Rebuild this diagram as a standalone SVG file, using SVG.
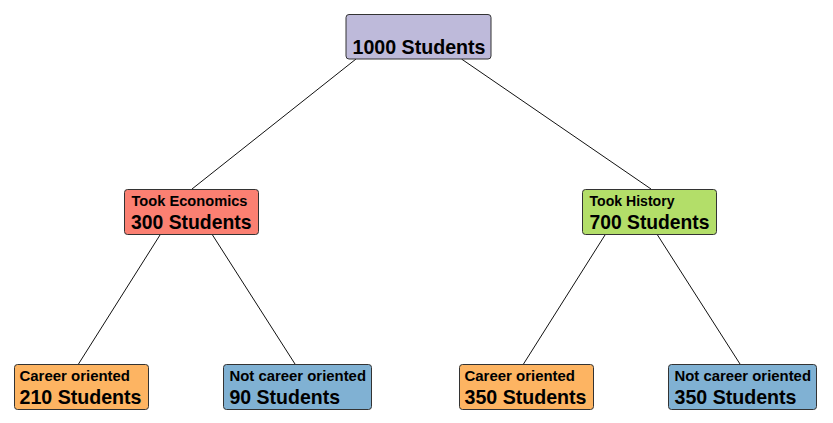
<svg xmlns="http://www.w3.org/2000/svg" width="833" height="423" viewBox="0 0 833 423">
<style>
.box{stroke:#333333;stroke-width:1;}
.t{font-family:"Liberation Sans",Arial,sans-serif;font-weight:bold;fill:#000000;}
.big{font-size:19.8px;}
.small{font-size:14.6px;}
.edge{stroke:#111111;stroke-width:1;fill:none;}
</style>
<rect x="0" y="0" width="833" height="423" fill="#ffffff"/>
<g id="connectors">
<line class="edge" x1="356" y1="59" x2="192" y2="189"/>
<line class="edge" x1="461.5" y1="59" x2="651" y2="189"/>
<line class="edge" x1="160" y1="235" x2="78.5" y2="364"/>
<line class="edge" x1="212.5" y1="235" x2="295" y2="364"/>
<line class="edge" x1="605" y1="235" x2="523.5" y2="364"/>
<line class="edge" x1="657.5" y1="235" x2="740" y2="364"/>
</g>
<g id="root">
<rect class="box" x="346" y="14.5" width="145" height="44.5" rx="3" fill="#bebada"/>
<text class="t big" x="352.5" y="54" textLength="133" lengthAdjust="spacingAndGlyphs">1000 Students</text>
</g>
<g id="economics">
<rect class="box" x="124.5" y="189.5" width="134" height="45" rx="3" fill="#fb8072"/>
<text class="t small" x="131.5" y="206" textLength="116" lengthAdjust="spacingAndGlyphs">Took Economics</text>
<text class="t big" x="131" y="228.5" textLength="120.5" lengthAdjust="spacingAndGlyphs">300 Students</text>
</g>
<g id="history">
<rect class="box" x="582.5" y="189.5" width="134" height="45" rx="3" fill="#b3de69"/>
<text class="t small" x="589.5" y="206" textLength="85" lengthAdjust="spacingAndGlyphs">Took History</text>
<text class="t big" x="589.5" y="228.5" textLength="120" lengthAdjust="spacingAndGlyphs">700 Students</text>
</g>
<g id="econ-career">
<rect class="box" x="14.5" y="364.5" width="134" height="45" rx="3" fill="#fdb462"/>
<text class="t small" x="19.5" y="381" textLength="110.5" lengthAdjust="spacingAndGlyphs">Career oriented</text>
<text class="t big" x="19.5" y="403.5" textLength="122" lengthAdjust="spacingAndGlyphs">210 Students</text>
</g>
<g id="econ-notcareer">
<rect class="box" x="223.5" y="364.5" width="148" height="45" rx="3" fill="#80b1d3"/>
<text class="t small" x="229.5" y="381" textLength="136.5" lengthAdjust="spacingAndGlyphs">Not career oriented</text>
<text class="t big" x="229.5" y="403.5" textLength="110.5" lengthAdjust="spacingAndGlyphs">90 Students</text>
</g>
<g id="hist-career">
<rect class="box" x="459.5" y="364.5" width="134" height="45" rx="3" fill="#fdb462"/>
<text class="t small" x="464.5" y="381" textLength="110.5" lengthAdjust="spacingAndGlyphs">Career oriented</text>
<text class="t big" x="464.5" y="403.5" textLength="122" lengthAdjust="spacingAndGlyphs">350 Students</text>
</g>
<g id="hist-notcareer">
<rect class="box" x="668.5" y="364.5" width="148" height="45" rx="3" fill="#80b1d3"/>
<text class="t small" x="674.5" y="381" textLength="136.5" lengthAdjust="spacingAndGlyphs">Not career oriented</text>
<text class="t big" x="674.5" y="403.5" textLength="122" lengthAdjust="spacingAndGlyphs">350 Students</text>
</g>
</svg>
